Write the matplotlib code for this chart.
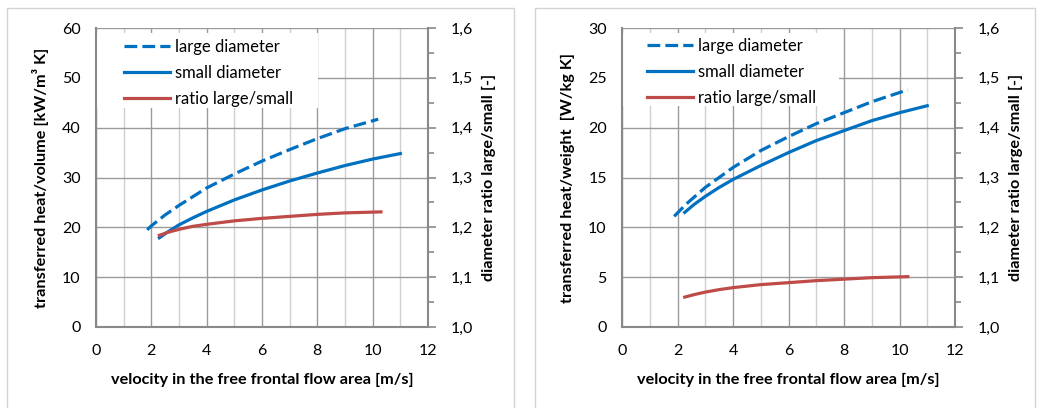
import matplotlib
matplotlib.use("Agg")
import matplotlib.pyplot as plt
from matplotlib.patches import Rectangle
from matplotlib.ticker import MultipleLocator, FuncFormatter

plt.rcParams['font.family'] = ['Lato', 'DejaVu Sans']

# ---- data: heat per volume (left panel) ----
vol_large_x = [1.85, 2.0, 2.5, 3.0, 4.0, 5.0, 6.0, 7.0, 8.0, 9.0, 10.2]
vol_large_y = [19.5, 20.3, 22.5, 24.4, 27.9, 30.7, 33.3, 35.6, 37.8, 39.8, 41.7]
vol_small_x = [2.29, 2.6, 3.0, 3.5, 4.0, 5.0, 6.0, 7.0, 8.0, 9.0, 10.0, 11.0]
vol_small_y = [17.9, 19.1, 20.5, 21.9, 23.2, 25.5, 27.5, 29.3, 30.9, 32.4, 33.7, 34.8]
vol_ratio_x = [2.29, 2.6, 3.0, 3.5, 4.0, 5.0, 6.0, 7.0, 8.0, 9.0, 10.3]
vol_ratio_y = [1.184, 1.190, 1.196, 1.202, 1.206, 1.213, 1.218, 1.222, 1.226, 1.229, 1.231]

# ---- data: heat per weight (right panel) ----
wt_large_x = [1.88, 2.3, 3.0, 3.5, 4.0, 5.0, 6.0, 7.0, 8.0, 9.0, 10.3]
wt_large_y = [11.1, 12.3, 14.0, 15.0, 16.0, 17.7, 19.1, 20.4, 21.5, 22.6, 23.8]
wt_small_x = [2.26, 2.6, 3.0, 3.5, 4.0, 5.0, 6.0, 7.0, 8.0, 9.0, 10.0, 11.0]
wt_small_y = [11.5, 12.3, 13.1, 14.0, 14.8, 16.2, 17.5, 18.7, 19.7, 20.7, 21.5, 22.2]
wt_ratio_x = [2.26, 2.6, 3.0, 3.5, 4.0, 5.0, 6.0, 7.0, 8.0, 9.0, 10.3]
wt_ratio_y = [1.060, 1.065, 1.070, 1.075, 1.079, 1.085, 1.089, 1.093, 1.096, 1.099, 1.101]

legend_labels = ["large diameter", "small diameter", "ratio large/small"]
x_label = "velocity in the free frontal flow area [m/s]"
ratio_label = "diameter ratio large/small [-]"

BLUE = "#0070C0"
RED = "#BE4B48"
SPINE = "#898989"
GRID_MAJ = "#9a9a9a"
GRID_MIN = "#cfcfcf"
FS_TICK = 11.5
FS_LEG = 12
FS_LAB = 11.7

W, H = 1037, 408
fig = plt.figure(figsize=(W / 100, H / 100), dpi=100)


def px_axes(left, right, top, bottom):
    return fig.add_axes([left / W, 1 - bottom / H, (right - left) / W, (bottom - top) / H])


def panel(ax_rect, frame_rect, box_rect, leg_xy, ymax, ystep, ylabel,
          lx, ly, sx, sy, rx, ry):
    fx0, fx1 = frame_rect
    fig.patches.append(Rectangle((fx0 / W, -0.05), (fx1 - fx0) / W, 1 - 8 / H + 0.05,
                                 transform=fig.transFigure, fill=False,
                                 edgecolor="#d3d3d3", linewidth=1.0))
    ax = px_axes(*ax_rect)
    ax.set_xlim(0, 12)
    ax.set_ylim(0, ymax)
    ax.xaxis.set_major_locator(MultipleLocator(2))
    ax.xaxis.set_minor_locator(MultipleLocator(1))
    ax.yaxis.set_major_locator(MultipleLocator(ystep))
    ax.grid(True, which="major", axis="x", color=GRID_MAJ, linewidth=1.0)
    ax.grid(True, which="minor", axis="x", color=GRID_MIN, linewidth=1.0)
    ax.grid(True, which="major", axis="y", color=GRID_MAJ, linewidth=1.0)
    ax.set_axisbelow(True)
    for s in ("top", "right"):
        ax.spines[s].set_visible(False)
    for s in ("left", "bottom"):
        ax.spines[s].set_color(SPINE)
        ax.spines[s].set_linewidth(1.5)
    ax.tick_params(axis="both", which="both", length=0, labelsize=FS_TICK, colors="#000000")
    ax.tick_params(axis="x", pad=12)
    ax.tick_params(axis="y", pad=11)
    ax.set_xlabel(x_label, fontsize=FS_LAB, fontweight="bold", labelpad=11)
    ax.set_ylabel(ylabel, fontsize=FS_LAB, fontweight="bold", labelpad=9)

    # white legend background patch, covering the grid
    bx0, bx1, by0, by1 = box_rect
    ax.add_patch(Rectangle((bx0 / W, 1 - by1 / H), (bx1 - bx0) / W, (by1 - by0) / H,
                           transform=fig.transFigure, facecolor="white",
                           edgecolor="none", zorder=1))

    l1, = ax.plot(lx, ly, color=BLUE, linewidth=2.3, dashes=(4, 1.6),
                  dash_capstyle="butt")
    l2, = ax.plot(sx, sy, color=BLUE, linewidth=2.3)

    tw = ax.twinx()
    tw.set_ylim(1.0, 1.6)
    tw.yaxis.set_major_locator(MultipleLocator(0.1))
    tw.yaxis.set_minor_locator(MultipleLocator(0.05))
    tw.yaxis.set_major_formatter(FuncFormatter(lambda v, p: f"{v:.1f}".replace(".", ",")))
    for s in ("top", "left", "bottom"):
        tw.spines[s].set_visible(False)
    tw.spines["right"].set_color(SPINE)
    tw.spines["right"].set_linewidth(1.5)
    tw.tick_params(axis="y", which="major", length=6, width=1.2, color=SPINE,
                   labelsize=FS_TICK, pad=10)
    tw.tick_params(axis="y", which="minor", length=4, width=1.2, color=SPINE)
    tw.set_ylabel(ratio_label, fontsize=FS_LAB, fontweight="bold", labelpad=7)
    l3, = tw.plot(rx, ry, color=RED, linewidth=2.3)

    lgx, lgy = leg_xy
    tw.legend([l1, l2, l3], legend_labels, loc="upper left",
              bbox_to_anchor=(lgx / W, 1 - lgy / H), bbox_transform=fig.transFigure,
              fontsize=FS_LEG, frameon=False, handlelength=2.75, handletextpad=0.3,
              labelspacing=0.6, borderpad=0.0, borderaxespad=0.0)
    return ax


panel((96, 428, 28, 327), (7, 514), (97, 318, 33, 108), (124, 39), 60, 10,
      "transferred heat/volume [kW/m³ K]",
      vol_large_x, vol_large_y, vol_small_x, vol_small_y, vol_ratio_x, vol_ratio_y)
panel((622, 955, 28, 327), (535, 1035), (623, 839, 33, 106), (647, 38), 30, 5,
      "transferred heat/weight  [W/kg K]",
      wt_large_x, wt_large_y, wt_small_x, wt_small_y, wt_ratio_x, wt_ratio_y)

fig.savefig("out.png", dpi=100)
